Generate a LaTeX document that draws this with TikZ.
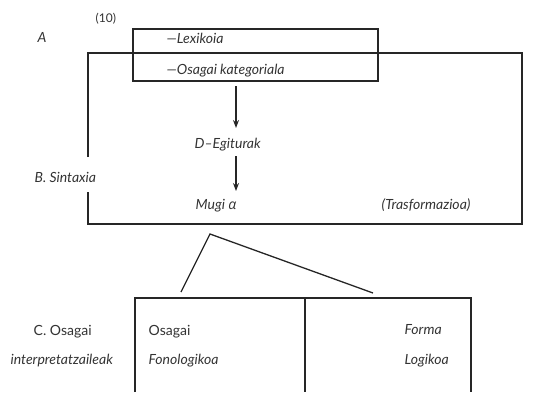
\documentclass[tikz,border=0pt]{standalone}
\usepackage{fontspec}
\setmainfont{Lato}
\newfontfamily\greekfont{Open Sans}
\usetikzlibrary{arrows.meta}
\begin{document}
\begin{tikzpicture}[x=1pt,y=-1pt,line width=1.3pt,
  ink/.style={draw=black!85},
  lbl/.style={font=\itshape\fontsize{14}{16}\selectfont,text=black!80,inner sep=0pt,anchor=base west},
  ulbl/.style={lbl,font=\fontsize{14}{16}\selectfont},
  flow/.style={ink,-{Stealth[length=8pt,width=6pt]}}]
\useasboundingbox (0,0) rectangle (534,392);

% Syntax frame (left side broken around its label)
\draw[ink] (88,157) -- (88,53) -- (522,53) -- (522,224) -- (88,224) -- (88,192);

% Base component box
\draw[ink] (133,29) rectangle (378,81);
\coordinate (basebot) at (236,86);

% Interpretive components
\draw[ink] (135,392) -- (135,298) -- (471,298) -- (471,392);
\draw[ink] (305,298) -- (305,392);

% Labels (placed on their baselines)
\node[ulbl,font=\fontsize{12}{14}\selectfont] (num) at (95,22) {(10)};
\node[lbl] (labA) at (37,42) {A};
\node[lbl] (lex) at (166,43) {—Lexikoia};
\node[lbl] (kat) at (166,74) {—Osagai kategoriala};
\node[lbl] (sint) at (34,182) {B. Sintaxia};
\node[lbl] (degit) at (194,148) {D–Egiturak};
\node[lbl] (mugi) at (195,209) {Mugi {\greekfont α}};
\node[lbl] (trans) at (381,209) {(Trasformazioa)};
\node[ulbl] (cosag) at (33,335) {C. Osagai};
\node[lbl] (interp) at (10,364) {interpretatzaileak};
\node[ulbl] (osag) at (148,335) {Osagai};
\node[lbl] (fono) at (148,364) {Fonologikoa};
\node[lbl] (forma) at (404,334) {Forma};
\node[lbl] (logi) at (404,364) {Logikoa};

% Derivation arrows
\coordinate (a1end) at (236,128);
\coordinate (a2beg) at (236,156);
\coordinate (a2end) at (236,191);
\draw[flow] (basebot) -- (a1end);
\draw[flow] (a2beg) -- (a2end);

% Branching towards PF and LF
\coordinate (apex) at (210,234);
\coordinate (pf) at (181,292);
\coordinate (lf) at (373,293);
\draw[ink] (pf) -- (apex) -- (lf);
\end{tikzpicture}
\end{document}
